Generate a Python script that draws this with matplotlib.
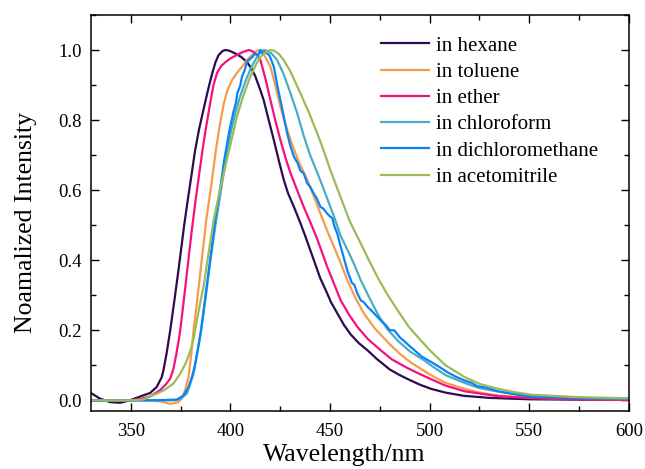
import matplotlib
matplotlib.use('Agg')
import matplotlib.pyplot as plt
from matplotlib.ticker import MultipleLocator

plt.rcParams['font.family'] = ['Liberation Serif', 'DejaVu Serif']

# emission spectra, (wavelength nm, normalized intensity)
hexane_x = [330, 334.5, 339.6, 344.6, 349.6, 354.7, 359.7, 363, 365.6, 366.4, 368,
            369.8, 372, 374, 376.8, 378.8, 380.6, 382.3, 384.3, 386.5, 388.5, 390.7,
            392.5, 394, 396, 397.4, 399.5, 402.5, 405.5, 408.4, 410.5, 412.5, 415,
            416.7, 419, 421.8, 424.5, 426.8, 429, 431.9, 435.2, 437.7, 441.9, 445,
            448.6, 450.5, 453.7, 457, 460.4, 464.5, 468.8, 473.5, 480, 485, 490, 495,
            500.6, 508, 517, 530, 550, 575, 600]
hexane_y = [0.021, 0.005, -0.005, -0.007, 0.0, 0.011, 0.021, 0.038, 0.067, 0.086, 0.135,
            0.2, 0.29, 0.375, 0.5, 0.58, 0.648, 0.714, 0.775, 0.83, 0.88, 0.93, 0.965,
            0.985, 0.997, 1.0, 0.998, 0.99, 0.98, 0.965, 0.948, 0.925, 0.886, 0.857,
            0.805, 0.743, 0.68, 0.629, 0.59, 0.552, 0.505, 0.467, 0.4, 0.35, 0.305, 0.28,
            0.248, 0.215, 0.188, 0.163, 0.143, 0.118, 0.088, 0.072, 0.058, 0.045, 0.033,
            0.022, 0.013, 0.007, 0.003, 0.002, 0.001]

toluene_x = [330, 360, 366, 369.8, 372, 373.9, 375.5, 377.3, 379, 380.3, 381.5, 383,
             384.5, 386, 388, 390.3, 392.7, 394.5, 396.6, 398.5, 400.8, 403.3, 405.8,
             408.4, 410.9, 413, 414.5, 416.5, 418.5, 420.1, 422.5, 425.1, 427.5, 430.2,
             434, 438.6, 442, 445.2, 448.5, 452, 455.5, 458.7, 462.5, 467, 472.5, 480,
             485, 490.5, 500.6, 508, 517.4, 525, 534, 551, 575, 600]
toluene_y = [0.0, 0.0, -0.004, -0.01, -0.008, -0.005, 0.005, 0.029, 0.067, 0.13, 0.2,
             0.27, 0.345, 0.42, 0.52, 0.61, 0.714, 0.78, 0.845, 0.885, 0.914, 0.935,
             0.952, 0.972, 0.986, 0.997, 1.0, 0.99, 0.97, 0.952, 0.9, 0.838, 0.79, 0.743,
             0.685, 0.629, 0.58, 0.533, 0.485, 0.438, 0.39, 0.343, 0.295, 0.248, 0.205,
             0.16, 0.133, 0.108, 0.072, 0.05, 0.033, 0.022, 0.014, 0.007, 0.004, 0.002]

ether_x = [330, 350, 355, 359.7, 364.7, 367.5, 369.8, 371.4, 372.8, 374, 374.8, 376.5,
           378.5, 380.5, 382.5, 384.3, 386, 387.5, 389.9, 391.5, 393.3, 395.5, 397.4,
           400, 403.3, 406.5, 409.2, 411, 413, 415.1, 417.5, 420.1, 422.5, 425.1, 427.5,
           430.2, 433.5, 436.8, 440, 443.6, 448.6, 451.5, 455.3, 459.5, 463.7, 469, 475.4,
           481, 488.9, 494, 498.9, 508, 517.4, 534, 551, 575, 600]
ether_y = [0.0, 0.0, 0.004, 0.011, 0.029, 0.045, 0.062, 0.09, 0.13, 0.17, 0.2, 0.28,
           0.38, 0.48, 0.57, 0.645, 0.714, 0.77, 0.85, 0.9, 0.935, 0.955, 0.965, 0.976,
           0.986, 0.995, 1.0, 0.997, 0.988, 0.971, 0.92, 0.857, 0.8, 0.743, 0.695, 0.648,
           0.6, 0.552, 0.51, 0.46, 0.381, 0.34, 0.286, 0.245, 0.21, 0.175, 0.143, 0.117,
           0.092, 0.078, 0.065, 0.042, 0.026, 0.012, 0.006, 0.003, 0.002]

chloroform_x = [330, 360, 372, 375, 378.2, 381.5, 385, 387.5, 390, 392.5, 395, 397.5,
                400, 402.5, 405, 407.5, 410, 412.5, 414.5, 416.7, 419, 421, 423.5, 426.8,
                430.2, 433.5, 436.8, 440, 443.6, 446, 450.3, 452, 455.3, 458.7, 462,
                465.4, 470, 473.8, 478.5, 483.9, 490, 497.3, 500.6, 508, 517.4, 525,
                534.2, 551, 575, 600]
chloroform_y = [0.0, 0.0, 0.0, 0.004, 0.02, 0.075, 0.19, 0.29, 0.4, 0.5, 0.59, 0.68,
                0.76, 0.82, 0.87, 0.91, 0.945, 0.972, 0.99, 1.0, 0.997, 0.988, 0.971, 0.93,
                0.876, 0.82, 0.755, 0.7, 0.65, 0.615, 0.55, 0.525, 0.47, 0.43, 0.39,
                0.343, 0.29, 0.248, 0.205, 0.171, 0.14, 0.114, 0.1, 0.072, 0.05, 0.035,
                0.025, 0.012, 0.007, 0.004]

dcm_x = [330, 360, 373.1, 376.5, 379, 380.7, 382.2, 383.5, 385.3, 387.5, 390, 392.5, 395,
         397, 399.5, 401.6, 402.8, 403.5, 404.1, 405, 405.8, 407, 408.4, 410, 411, 412.5,
         413.8, 415.1, 416, 417.2, 418.4, 419.5, 420.3, 421.8, 423.5, 425.1, 426.8,
         428.5, 430, 431.9, 433.5, 435.2, 436.8, 438.5, 440, 441.9, 443.5, 445.2, 446.5,
         448.6, 450, 451.2, 452, 453.7, 455.3, 457, 458.7, 461, 462.2, 463.7, 465.5, 467,
         468.8, 471, 473.8, 476, 478, 480, 482.2, 485, 488, 490.5, 493, 496, 500.6, 505,
         509, 513, 517.4, 521, 524, 528, 534.2, 540, 551, 575, 600]
dcm_y = [0.0, 0.0, 0.002, 0.014, 0.038, 0.067, 0.1, 0.14, 0.2, 0.3, 0.41, 0.52, 0.61,
         0.69, 0.77, 0.825, 0.85, 0.878, 0.886, 0.9, 0.924, 0.94, 0.967, 0.975, 0.98,
         0.99, 0.985, 1.0, 0.99, 0.995, 0.99, 0.985, 0.975, 0.952, 0.9, 0.857, 0.81,
         0.762, 0.728, 0.695, 0.68, 0.655, 0.648, 0.62, 0.61, 0.59, 0.575, 0.552, 0.548,
         0.533, 0.525, 0.52, 0.5, 0.475, 0.44, 0.405, 0.37, 0.335, 0.33, 0.305, 0.285,
         0.28, 0.267, 0.255, 0.238, 0.225, 0.215, 0.2, 0.2, 0.18, 0.165, 0.152, 0.14,
         0.125, 0.11, 0.095, 0.08, 0.068, 0.057, 0.05, 0.04, 0.037, 0.026, 0.02, 0.01,
         0.006, 0.005]

acn_x = [330, 350, 356, 363, 367, 371.4, 374.8, 377.5, 379.8, 381.5, 383.2, 384.9,
         386.5, 389, 391.6, 394, 396.6, 400, 403.3, 406.5, 410, 413, 415.1, 418, 420.1,
         422, 424.5, 426.8, 430, 435.2, 439.5, 443.6, 447, 450.3, 455.3, 460, 465.4,
         469.5, 473.8, 478.5, 483.9, 489.5, 495.6, 500.6, 508, 517.4, 525, 534.2, 542,
         551, 575, 600]
acn_y = [0.0, 0.0, 0.002, 0.019, 0.03, 0.048, 0.076, 0.105, 0.14, 0.175, 0.229, 0.28,
         0.324, 0.419, 0.514, 0.58, 0.648, 0.73, 0.81, 0.87, 0.924, 0.96, 0.981, 0.995,
         1.0, 0.998, 0.988, 0.971, 0.94, 0.876, 0.82, 0.762, 0.71, 0.655, 0.58, 0.51,
         0.448, 0.4, 0.352, 0.305, 0.257, 0.21, 0.171, 0.14, 0.1, 0.067, 0.047, 0.033,
         0.024, 0.016, 0.009, 0.006]

series = [
    ('in hexane', hexane_x, hexane_y, '#2e0a52'),
    ('in toluene', toluene_x, toluene_y, '#f79a4a'),
    ('in ether', ether_x, ether_y, '#f5107e'),
    ('in chloroform', chloroform_x, chloroform_y, '#4bacc6'),
    ('in dichloromethane', dcm_x, dcm_y, '#0a84f5'),
    ('in acetomitrile', acn_x, acn_y, '#9bbb59'),
]

fig = plt.figure(figsize=(6.45, 4.69), dpi=100)
ax = fig.add_axes([0.141, 0.124, 0.834, 0.844])

for label, xs, ys, color in series:
    ax.plot(xs, ys, color=color, linewidth=1.6, label=label)

ax.set_xlim(330, 600)
ax.set_ylim(-0.03, 1.1)
ax.xaxis.set_major_locator(MultipleLocator(50))
ax.xaxis.set_minor_locator(MultipleLocator(25))
ax.yaxis.set_minor_locator(MultipleLocator(0.1))
ax.set_yticks([0.0, 0.2, 0.4, 0.6, 0.8, 1.0])
ax.set_yticklabels(['0.0', '0.2', '0.4', '0.6', '0.8', '1.0'])
ax.tick_params(which='both', direction='in', top=True, right=True, labelsize=13.5,
               width=1.0)
ax.tick_params(which='major', length=6)
ax.tick_params(which='minor', length=3.5)
ax.tick_params(axis='x', which='both', pad=8.5)
ax.tick_params(axis='y', which='both', pad=6.5)
for sp in ax.spines.values():
    sp.set_linewidth(1.1)

ax.set_xlabel('Wavelength/nm', fontsize=18.5)
ax.set_ylabel('Noamalized Intensity', fontsize=18.5)
ax.xaxis.set_label_coords(0.47, -0.085)
ax.yaxis.set_label_coords(-0.101, 0.476)

ax.legend(loc='upper left', bbox_to_anchor=(0.54, 0.947), frameon=False, fontsize=15,
          borderpad=0, borderaxespad=0, handlelength=2.3, handletextpad=0.3,
          labelspacing=0.32)

fig.savefig('out.png', dpi=100)
